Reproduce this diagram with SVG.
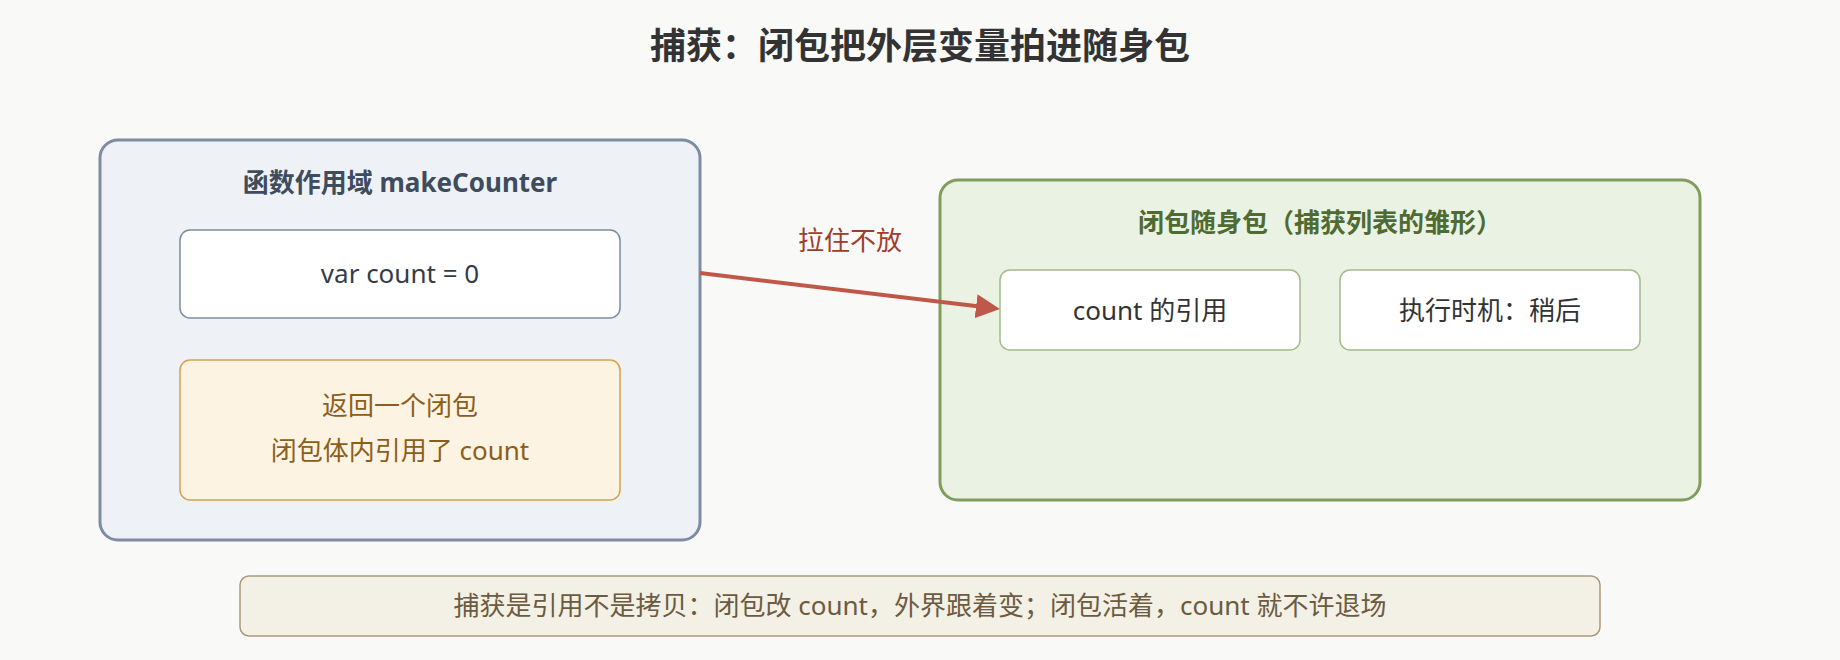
<svg xmlns="http://www.w3.org/2000/svg" width="1840" height="660" viewBox="0 0 1840 660">
  <style>
    text { font-family: "Noto Sans", "Noto Sans CJK SC", sans-serif; text-anchor: middle; }
    .title { font-size: 36px; font-weight: bold; fill: #333333; }
    .h { font-size: 26px; font-weight: bold; }
    .t { font-size: 26px; }
    .scope { fill: #eef2f7; stroke: #7d8ca3; stroke-width: 3; }
    .bag { fill: #eaf2e3; stroke: #7f9d5d; stroke-width: 3; }
    .wbox { fill: #ffffff; stroke: #7d8ca3; stroke-width: 1.5; }
    .gbox { fill: #ffffff; stroke: #a4bc8b; stroke-width: 1.5; }
    .obox { fill: #fdf3e2; stroke: #d4a24c; stroke-width: 1.5; }
    .note { fill: #f3f0e6; stroke: #a99a7b; stroke-width: 1.5; }
  </style>
  <defs>
    <marker id="arrow" viewBox="0 0 24 24" refX="12" refY="12" markerWidth="24" markerHeight="24" markerUnits="userSpaceOnUse" orient="auto">
      <path d="M0,0 L24,12 L0,24 z" fill="#c0584a"/>
    </marker>
  </defs>
  <rect x="0" y="0" width="1840" height="660" fill="#f9f9f7"/>
  <text class="title" x="920" y="59">捕获：闭包把外层变量拍进随身包</text>

  <g id="scope">
    <rect class="scope" x="100" y="140" width="600" height="400" rx="18"/>
    <text class="h" x="400" y="192" fill="#3e4c5e">函数作用域 makeCounter</text>
  </g>
  <g id="var-count">
    <rect class="wbox" x="180" y="230" width="440" height="88" rx="10"/>
    <text class="t" x="400" y="283" fill="#333d4a">var count = 0</text>
  </g>
  <g id="return-closure">
    <rect class="obox" x="180" y="360" width="440" height="140" rx="10"/>
    <text class="t" x="400" y="415" fill="#8b5e1c">返回一个闭包</text>
    <text class="t" x="400" y="460" fill="#8b5e1c">闭包体内引用了 count</text>
  </g>

  <g id="bag">
    <rect class="bag" x="940" y="180" width="760" height="320" rx="18"/>
    <text class="h" x="1320" y="232" fill="#4f6b31">闭包随身包（捕获列表的雏形）</text>
  </g>
  <g id="count-ref">
    <rect class="gbox" x="1000" y="270" width="300" height="80" rx="10"/>
    <text class="t" x="1150" y="320" fill="#333333">count 的引用</text>
  </g>
  <g id="exec-time">
    <rect class="gbox" x="1340" y="270" width="300" height="80" rx="10"/>
    <text class="t" x="1490" y="320" fill="#333333">执行时机：稍后</text>
  </g>

  <g id="connectors">
    <line x1="700" y1="273" x2="988" y2="307.6" stroke="#c0584a" stroke-width="4" marker-end="url(#arrow)"/>
    <text class="t" x="850" y="250" fill="#a03c2c">拉住不放</text>
  </g>

  <g id="footnote">
    <rect class="note" x="240" y="576" width="1360" height="60" rx="9"/>
    <text class="t" x="920" y="615" fill="#6b5b40">捕获是引用不是拷贝：闭包改 count，外界跟着变；闭包活着，count 就不许退场</text>
  </g>
</svg>
